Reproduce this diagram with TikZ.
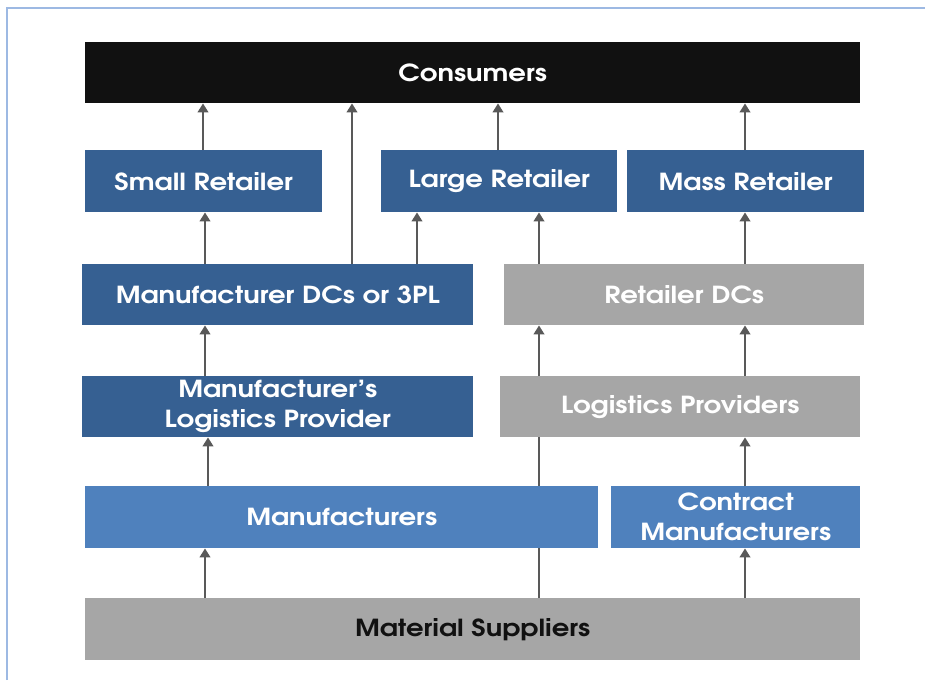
\documentclass[tikz,border=0pt]{standalone}
\usepackage{fontspec}
\setmainfont{TeX Gyre Adventor}[FakeStretch=1.17]
\usetikzlibrary{arrows.meta,backgrounds}
\definecolor{dkblue}{HTML}{366092}
\definecolor{ltblue}{HTML}{4F81BD}
\definecolor{gbox}{HTML}{A6A6A6}
\definecolor{blk}{HTML}{111111}
\definecolor{arrc}{HTML}{595959}
\definecolor{frame}{HTML}{9DB9E3}
\tikzset{
  box/.style={anchor=north west, inner sep=0pt, minimum height=62pt, align=center,
    text=white, font=\fontsize{23.5}{30}\selectfont\bfseries},
  arr/.style={draw=arrc, line width=2.8pt, -{Triangle[width=10.5pt,length=9pt]}},
  plain/.style={draw=arrc, line width=2.8pt},
}
\begin{document}
\begin{tikzpicture}[x=1pt,y=-1pt]
\useasboundingbox (0,0) rectangle (925,680);
\draw[frame, line width=1.5pt] (7,680) -- (7,8) -- (925,8);
% nodes
\node[box, fill=blk, minimum width=775pt, minimum height=61pt] (cons) at (85,42) {Consumers};
\node[box, fill=dkblue, minimum width=237pt] (sr) at (85,150) {Small Retailer};
\node[box, fill=dkblue, minimum width=236pt] (lr) at (381,150) {Large Retailer\vphantom{S}};
\node[box, fill=dkblue, minimum width=237pt] (mr) at (627,150) {Mass Retailer};
\node[box, fill=dkblue, minimum width=391pt, minimum height=61pt] (mdc) at (82,264) {Manufacturer DCs or 3PL};
\node[box, fill=gbox, minimum width=360pt, minimum height=61pt] (rdc) at (504,264) {Retailer DCs};
\node[box, fill=dkblue, minimum width=391pt, minimum height=61pt] (mlp) at (82,376) {Manufacturer’s\\Logistics Provider};
\node[box, fill=gbox, minimum width=360pt, minimum height=61pt] (lp) at (500,376) {Logistics Providers};
\node[box, fill=ltblue, minimum width=513pt] (man) at (85,486) {Manufacturers};
\node[box, fill=ltblue, minimum width=249pt] (cm) at (611,486) {Contract\\Manufacturers};
\node[box, fill=gbox, minimum width=775pt, text=blk] (ms) at (85,598) {Material Suppliers};
% connectors
\draw[arr] (sr.north -| 203,0) -- (cons.south -| 203,0);
\draw[arr] (mdc.north -| 352,0) -- (cons.south -| 352,0);
\draw[arr] (lr.north -| 498,0) -- (cons.south -| 498,0);
\draw[arr] (mr.north -| 745,0) -- (cons.south -| 745,0);
\draw[arr] (mdc.north -| 205,0) -- (sr.south -| 205,0);
\draw[arr] (mdc.north -| 417,0) -- (lr.south -| 417,0);
\draw[arr] (rdc.north -| 539,0) -- (lr.south -| 539,0);
\draw[arr] (rdc.north -| 745,0) -- (mr.south -| 745,0);
\draw[arr] (mlp.north -| 205,0) -- (mdc.south -| 205,0);
\draw[arr] (lp.north -| 539,0) -- (rdc.south -| 539,0);
\draw[arr] (lp.north -| 745,0) -- (rdc.south -| 745,0);
\draw[arr] (man.north -| 208,0) -- (mlp.south -| 208,0);
\draw[arr] (cm.north -| 745,0) -- (lp.south -| 745,0);
\draw[arr] (ms.north -| 205,0) -- (man.south -| 205,0);
\draw[arr] (ms.north -| 745,0) -- (cm.south -| 745,0);
\begin{scope}[on background layer]
\draw[plain] (ms.north -| 539,0) -- (lp.south -| 539,0);
\end{scope}
\end{tikzpicture}
\end{document}
